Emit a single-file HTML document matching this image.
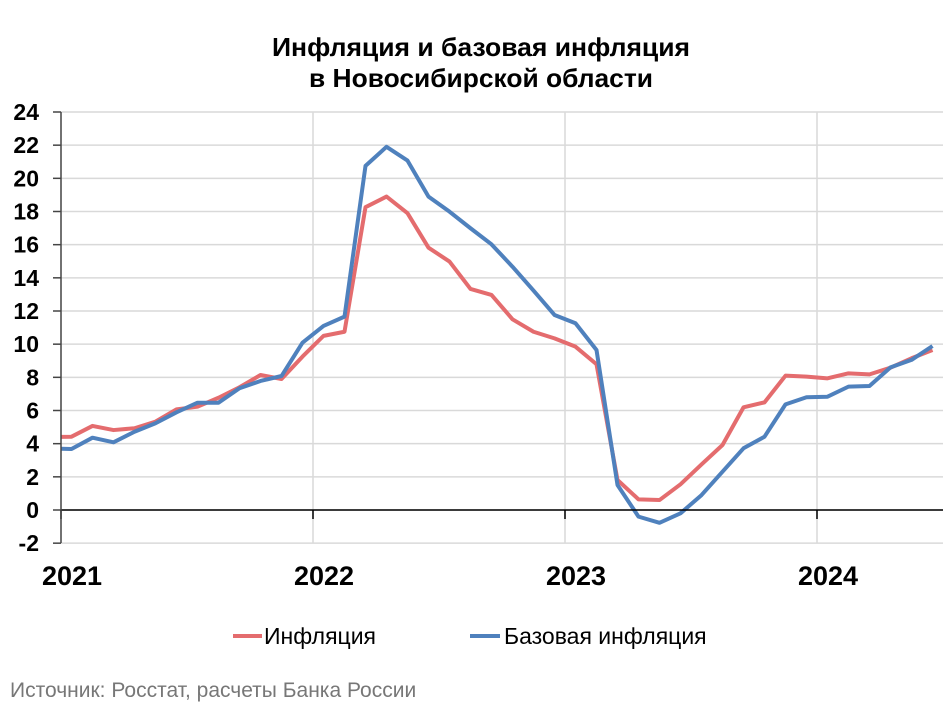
<!DOCTYPE html>
<html><head><meta charset="utf-8"><style>
body{margin:0;background:#fff;width:950px;height:712px;overflow:hidden;font-family:"Liberation Sans",Arial,sans-serif}
svg{display:block}
</style></head><body>
<svg id="chart" width="950" height="712" xmlns="http://www.w3.org/2000/svg">
<text x="481" y="56" text-anchor="middle" font-size="26" font-weight="bold" fill="#000" textLength="418" lengthAdjust="spacingAndGlyphs">Инфляция и базовая инфляция</text>
<text x="481" y="87" text-anchor="middle" font-size="26" font-weight="bold" fill="#000" textLength="344" lengthAdjust="spacingAndGlyphs">в Новосибирской области</text>
<g id="grid"></g><g id="series"></g><g id="axes"></g>
<g>
<line x1="233" y1="636" x2="262" y2="636" stroke="#e46c6e" stroke-width="4"/>
<text x="264" y="644" font-size="23">Инфляция</text>
<line x1="470" y1="636" x2="500" y2="636" stroke="#4f81bd" stroke-width="4"/>
<text x="504" y="644" font-size="23">Базовая инфляция</text>
</g>
<text x="10" y="697" font-size="21" fill="#777">Источник: Росстат, расчеты Банка России</text>
</svg>
<script>
const years=["2021","2022","2023","2024"];
const yTicks=[-2,0,2,4,6,8,10,12,14,16,18,20,22,24];
// Dec 2020 .. Jun 2024, monthly
const inflation=[4.4,4.42,5.07,4.82,4.93,5.33,6.07,6.23,6.77,7.40,8.14,7.90,9.25,
10.5,10.75,18.26,18.9,17.9,15.82,14.98,13.33,12.97,11.5,10.75,10.35,
9.85,8.79,1.81,0.64,0.6,1.55,2.75,3.92,6.19,6.49,8.1,8.04,
7.94,8.24,8.18,8.58,9.15,9.65];
const coreInflation=[3.7,3.68,4.36,4.08,4.72,5.23,5.89,6.47,6.47,7.34,7.78,8.08,10.09,
11.1,11.66,20.75,21.9,21.07,18.9,17.99,16.99,16.02,14.67,13.23,11.76,
11.26,9.65,1.51,-0.4,-0.77,-0.2,0.9,2.31,3.72,4.42,6.37,6.8,
6.83,7.44,7.48,8.6,9.05,9.89];
const NS="http://www.w3.org/2000/svg";
const X0=61,MW=21,YR=252;
const x=i=>X0+(i-0.5)*MW; // index 0 = Dec 2020
const y=v=>510-v*(398/24);
function mk(tag,attrs,parent){const e=document.createElementNS(NS,tag);for(const k in attrs)e.setAttribute(k,attrs[k]);parent.appendChild(e);return e;}
const grid=document.getElementById('grid'),ser=document.getElementById('series'),ax=document.getElementById('axes');
yTicks.forEach(t=>{
 const l=mk('line',{x1:61,x2:943,y1:y(t),y2:y(t),stroke:'#d9d9d9','stroke-width':1.5},grid);
 
 
 mk('line',{x1:53,x2:61,y1:y(t),y2:y(t),stroke:'#444','stroke-width':1.5},ax);
 const tx=mk('text',{x:39,y:y(t)+8,'text-anchor':'end','font-size':23,'font-weight':'bold'},ax);
 tx.textContent=t;
 
 
});
years.forEach((yr,i)=>{
 const xx=X0+i*YR;
 if(i>0){const g=mk('line',{x1:xx,x2:xx,y1:112,y2:543,stroke:'#d9d9d9','stroke-width':1.5},grid);
 
 }
 mk('line',{x1:xx,x2:xx,y1:510,y2:519,stroke:'#000','stroke-width':1.5},ax);
 const tx=mk('text',{x:xx+11,y:585,'text-anchor':'middle','font-size':27,'font-weight':'bold'},ax);
 tx.textContent=yr;
 
 
});
const clip=mk('clipPath',{id:'pc'},ser);mk('rect',{x:61,y:100,width:890,height:460},clip);
function line(data,color,name){
 const p=mk('polyline',{points:data.map((v,i)=>x(i)+','+y(v)).join(' '),fill:'none',stroke:color,'stroke-width':4,'stroke-linejoin':'round','clip-path':'url(#pc)'},ser);
 
 
}
line(inflation,'#e46c6e','inflation-line');
line(coreInflation,'#4f81bd','core-inflation-line');
const xa=mk('line',{x1:61,x2:943,y1:510,y2:510,stroke:'#000','stroke-width':1.5},ax);


const ya=mk('line',{x1:61,x2:61,y1:112,y2:543,stroke:'#444','stroke-width':1.5},ax);


</script>
</body></html>
